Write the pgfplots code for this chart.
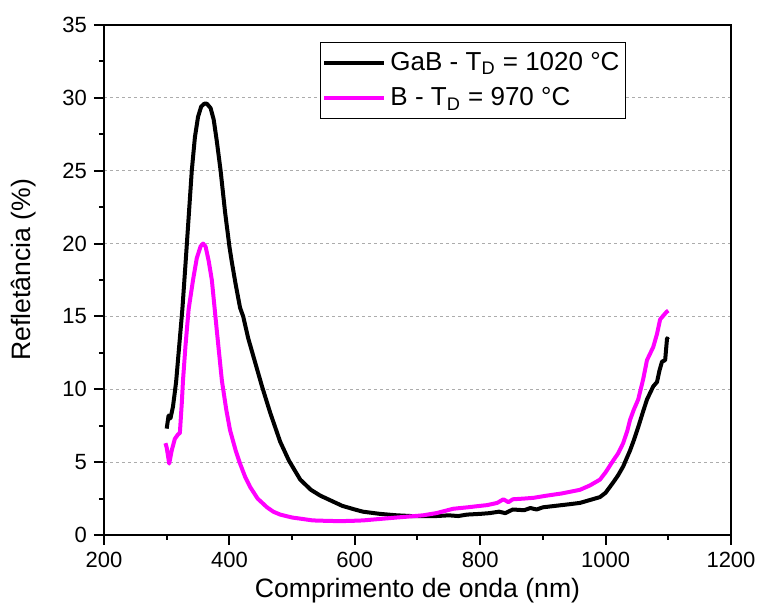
\documentclass[border=0pt]{standalone}
\usepackage{fontspec}
\setmainfont{Liberation Sans}
\usepackage{pgfplots}
\pgfplotsset{compat=1.18}
\definecolor{mag}{RGB}{255,0,255}
\begin{document}
\begin{tikzpicture}
\begin{axis}[
  scale only axis, width=313.5pt, height=255pt,
  xmin=200, xmax=1200, ymin=0, ymax=35,
  xtick={200,400,...,1200}, ytick={0,5,...,35},
  minor x tick num=1, minor y tick num=1,
  tick align=outside, xtick pos=bottom, ytick pos=left,
  major tick length=5pt, minor tick length=2.5pt,
  every tick/.style={black, line width=1pt},
  axis line style={line width=1pt},
  ymajorgrids,
  grid style={gray!65, dash pattern=on 1.5pt off 1.5pt, line width=0.6pt},
  /pgf/number format/assume math mode=true,
  /pgf/number format/1000 sep={},
  tick label style={font=\fontsize{11}{13}\selectfont},
  label style={font=\fontsize{13.3}{15}\selectfont},
  xlabel={Comprimento de onda (nm)},
  ylabel={Refletância (\%)},
  x label style={at={(axis description cs:0.5,-0.11)}, anchor=center},
  y label style={at={(axis description cs:-0.1276,0.52)}, anchor=center},
  legend style={at={(axis description cs:0.3445,0.9667)}, anchor=north west,
    draw=black, line width=0.5pt, inner xsep=1pt, inner ysep=3pt,
    font=\fontsize{13}{15}\selectfont, row sep=3pt},
  legend cell align=left,
  legend image code/.code={\draw[#1] (0pt,0pt) -- (30pt,0pt);},
]
\addplot[black, line width=2pt, line join=round] coordinates {
(300,7.3) (303,8.2) (306,8.0) (310,8.8) (315,10.5) (320,13.0) (325,15.5) (330,18.6)
(335,21.8) (340,25.0) (345,27.3) (350,28.7) (355,29.4) (360,29.6) (364,29.6) (370,29.3)
(375,28.5) (380,27.0) (386,25.0) (393,22.2) (400,19.8) (404,18.7) (410,17.2) (417,15.6)
(422,15.0) (430,13.5) (440,12.0) (452,10.2) (465,8.4) (481,6.4) (495,5.1) (513,3.8) (530,3.1)
(545,2.7) (560,2.4) (580,2.0) (600,1.75) (613,1.6) (640,1.45) (667,1.35) (690,1.3)
(709,1.3) (730,1.3) (750,1.35) (765,1.3) (779,1.4) (800,1.45) (815,1.5) (830,1.6)
(840,1.5) (852,1.75) (870,1.7) (880,1.85) (890,1.75) (900,1.9) (920,2.0) (940,2.1)
(959,2.2) (975,2.4) (991,2.6) (1000,2.9) (1012,3.6) (1020,4.1) (1028,4.7) (1039,5.8)
(1045,6.5) (1052,7.4) (1060,8.5) (1066,9.3) (1076,10.2) (1082,10.5) (1086,11.3)
(1090,11.9) (1095,12.0) (1098,13.5) (1100,13.4)
};
\addlegendentry{GaB - T\textsubscript{D} = 1020 °C}
\addplot[mag, line width=2pt, line join=round] coordinates {
(298,6.3) (300,6.0) (304,4.9) (308,5.8) (313,6.6) (318,6.9) (321,7.0) (324,9.0)
(326,10.6) (330,13.0) (335,15.5) (342,17.5) (348,19.0) (354,19.8) (358,20.0) (362,19.8)
(367,18.8) (372,17.5) (380,14.0) (388,10.6) (395,8.6) (401,7.2) (410,5.8) (417,4.9)
(425,4.0) (433,3.3) (445,2.5) (460,1.9) (470,1.6) (481,1.4) (500,1.2) (533,1.0)
(555,0.97) (576,0.95) (595,0.97) (613,1.0) (640,1.1) (667,1.2) (690,1.28) (709,1.35)
(730,1.5) (757,1.8) (780,1.9) (800,2.0) (811,2.05) (827,2.2) (837,2.45) (845,2.25)
(852,2.45) (870,2.5) (885,2.55) (906,2.7) (930,2.85) (959,3.1) (975,3.4) (991,3.8)
(1000,4.3) (1012,5.1) (1020,5.6) (1028,6.3) (1035,7.2) (1039,7.9) (1045,8.6) (1052,9.3)
(1060,10.7) (1066,12.0) (1076,12.9) (1082,13.8) (1087,14.8) (1093,15.1) (1097,15.3) (1100,15.4)
};
\addlegendentry{B - T\textsubscript{D} = 970 °C}
\end{axis}
\pgfresetboundingbox
\path[use as bounding box] (current axis.south west) ++(-52pt,-37.5pt) rectangle ++(378.5pt,305pt);
\end{tikzpicture}
\end{document}
